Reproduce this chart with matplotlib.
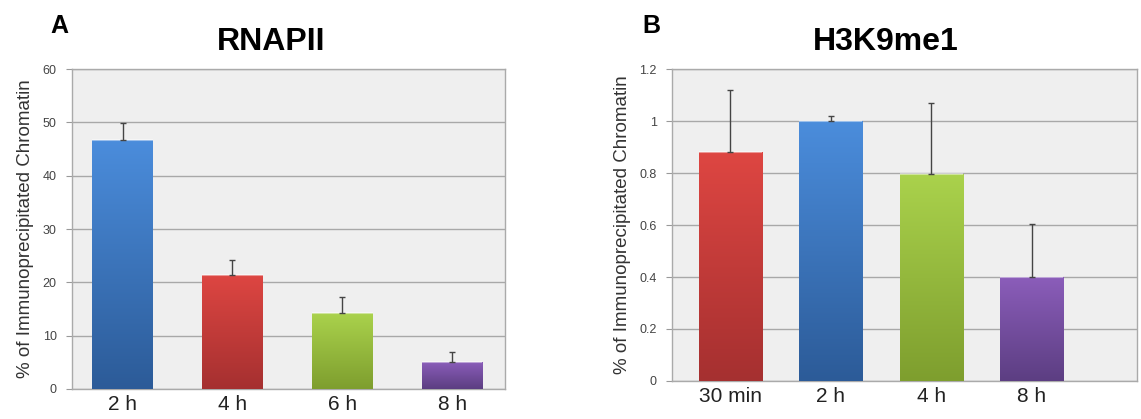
import numpy as np
import matplotlib
matplotlib.use("Agg")
import matplotlib.pyplot as plt
from matplotlib.colors import LinearSegmentedColormap

plt.rcParams['font.family'] = ['Liberation Sans', 'DejaVu Sans']

# Panel A - RNAPII
a_labels = ["2 h", "4 h", "6 h", "8 h"]
a_values = [46.7, 21.4, 14.2, 5.1]
a_err = [3.1, 2.8, 3.1, 1.9]

# Panel B - H3K9me1
b_labels = ["30 min", "2 h", "4 h", "8 h"]
b_values = [0.88, 1.0, 0.795, 0.40]
b_err = [0.24, 0.02, 0.275, 0.205]

# gradient colours (top, bottom)
blue = ("#4b8ddc", "#2c5b98")
red = ("#de4642", "#a53030")
green = ("#aad24c", "#7e9e2e")
purple = ("#8b5dba", "#5c3e82")

a_colors = [blue, red, green, purple]
b_colors = [red, blue, green, purple]


def gradient_bars(ax, values, colors, width):
    x = np.arange(len(values))
    bars = ax.bar(x, values, width=width, color="none", edgecolor="none", zorder=3)
    grad = np.linspace(0, 1, 256).reshape(-1, 1)
    for b, (top, bot) in zip(bars, colors):
        cmap = LinearSegmentedColormap.from_list("g", [bot, top])
        x0, y0 = b.get_x(), b.get_y()
        w, h = b.get_width(), b.get_height()
        im = ax.imshow(grad, cmap=cmap, aspect="auto", origin="lower",
                       extent=(x0, x0 + w, y0, y0 + h), zorder=3)
        im.set_clip_path(b)
        # light line at the bar top
        ax.plot([x0, x0 + w], [y0 + h, y0 + h], color="white", alpha=0.45,
                lw=1.5, zorder=4, solid_capstyle="butt")
    return x


def style(ax, labels, ylim, yticks):
    ax.set_facecolor("#efefef")
    ax.set_ylim(*ylim)
    ax.set_yticks(yticks)
    ax.set_yticklabels([f"{t:g}" for t in yticks], fontsize=9, color="#444444")
    ax.set_xticks(range(len(labels)))
    ax.set_xticklabels(labels, fontsize=15, color="#222222")
    ax.tick_params(axis="x", length=0, pad=4)
    ax.tick_params(axis="y", length=4, color="#999999", pad=7)
    ax.yaxis.grid(True, color="#a8a8a8", lw=1)
    ax.set_axisbelow(True)
    for s in ax.spines.values():
        s.set_color("#aaaaaa")
        s.set_linewidth(1)
    ax.set_ylabel("% of Immunoprecipitated Chromatin", fontsize=13.5, color="#333333", labelpad=6)


fig = plt.figure(figsize=(11.41, 4.19), dpi=100)

ax1 = fig.add_axes([0.0631, 0.0716, 0.3795, 0.7637])
x1 = gradient_bars(ax1, a_values, a_colors, 0.55)
ax1.errorbar(x1, a_values, yerr=[np.zeros(4), a_err], fmt="none", ecolor="#444444",
             elinewidth=1, capsize=2, capthick=1, zorder=5)
ax1.set_xlim(-0.46, 3.48)
style(ax1, a_labels, (0, 60), [0, 10, 20, 30, 40, 50, 60])
ax1.set_title("RNAPII", fontsize=23, fontweight="bold", pad=14, x=0.46)
fig.text(0.044, 0.921, "A", fontsize=18, fontweight="bold")

ax2 = fig.add_axes([0.589, 0.0907, 0.4075, 0.7446])
x2 = gradient_bars(ax2, b_values, b_colors, 0.63)
ax2.errorbar(x2, b_values, yerr=[np.zeros(4), b_err], fmt="none", ecolor="#444444",
             elinewidth=1, capsize=2, capthick=1, zorder=5)
ax2.set_xlim(-0.58, 4.05)
style(ax2, b_labels, (0, 1.2), [0, 0.2, 0.4, 0.6, 0.8, 1.0, 1.2])
ax2.set_title("H3K9me1", fontsize=23, fontweight="bold", pad=14, x=0.46)
fig.text(0.563, 0.921, "B", fontsize=18, fontweight="bold")

fig.savefig("out.png", dpi=100)
